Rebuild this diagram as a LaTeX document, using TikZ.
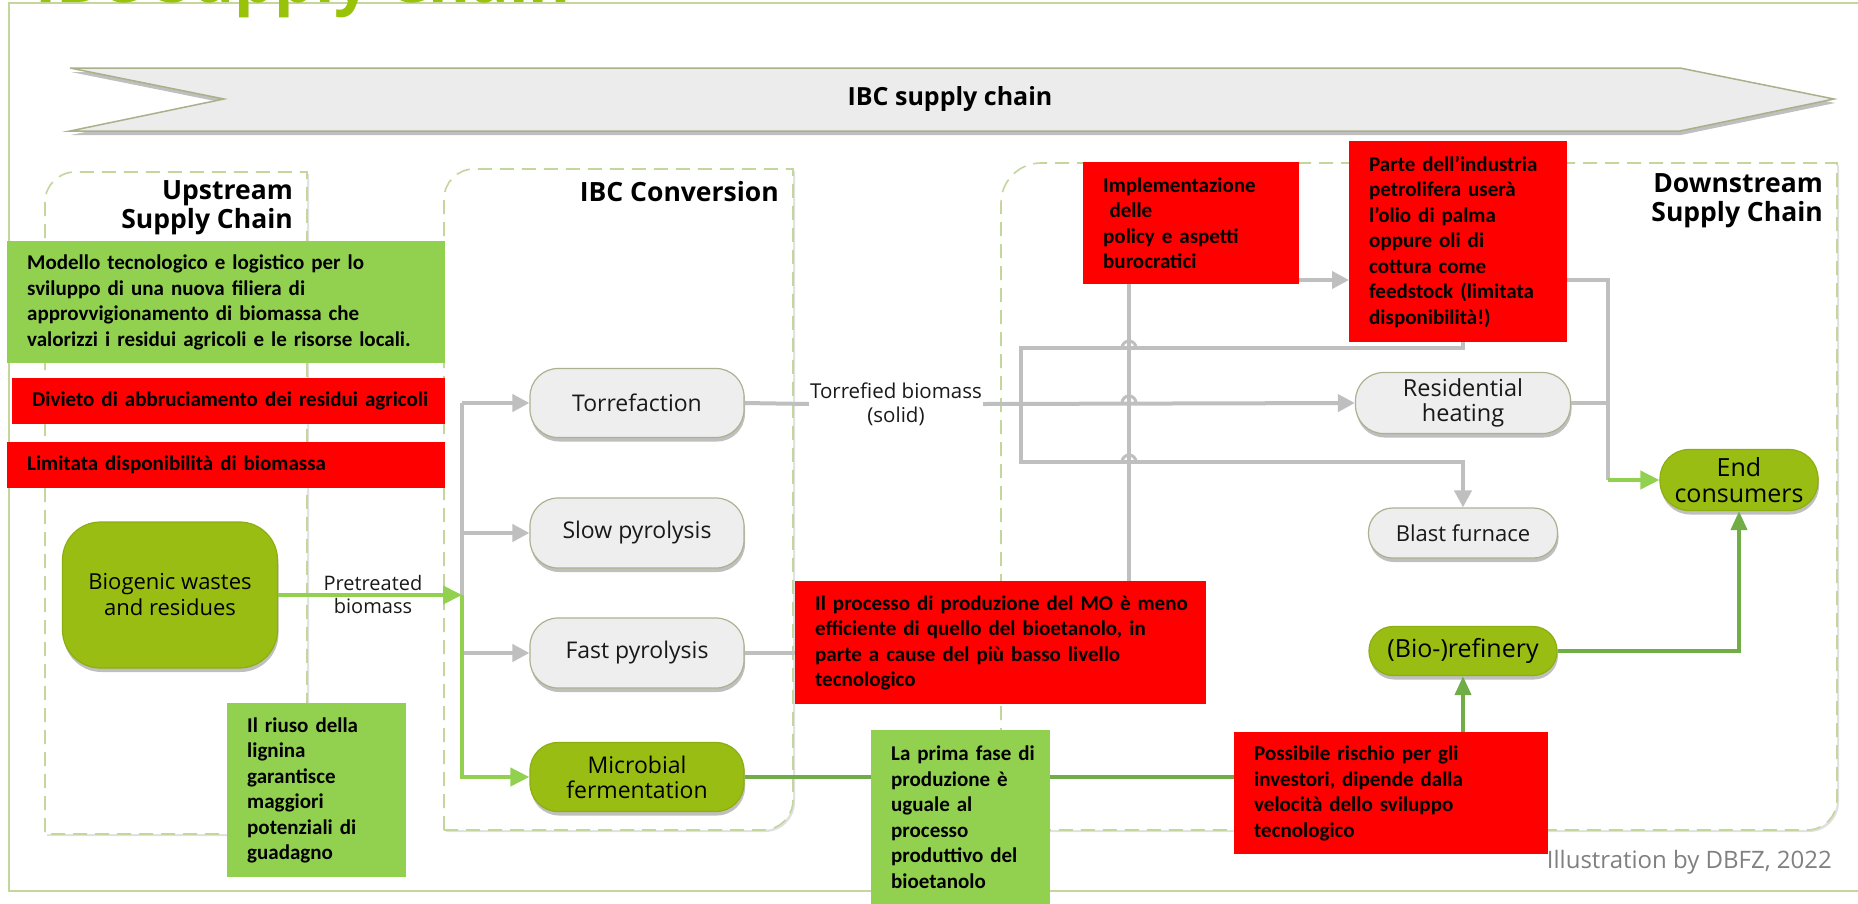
\documentclass[tikz,border=0pt]{standalone}
\usepackage{fontspec}
\setmainfont{Carlito}
\newfontfamily\osans{Open Sans}
\usetikzlibrary{arrows.meta,shadows,calc}
\definecolor{frameg}{HTML}{C3D69B}
\definecolor{titleg}{HTML}{99C20A}
\definecolor{ribfill}{HTML}{ECECEC}
\definecolor{ribdraw}{HTML}{A9B08A}
\definecolor{procgray}{HTML}{EEEEEE}
\definecolor{procdraw}{HTML}{ADB18F}
\definecolor{procgreen}{HTML}{99BD12}
\definecolor{procgdraw}{HTML}{8DAE10}
\definecolor{notered}{HTML}{FF0000}
\definecolor{notegreen}{HTML}{92D050}
\definecolor{linegray}{HTML}{BFBFBF}
\definecolor{lgreen}{HTML}{92D050}
\definecolor{dgreen}{HTML}{70AD47}
\definecolor{creditc}{HTML}{808080}
\newcommand\fnode{\osans\fontsize{23}{25}\selectfont}
\newcommand\fnote{\bfseries\fontsize{21}{25.5}\selectfont}
\newcommand\fhead{\osans\bfseries\fontsize{26.5}{29}\selectfont}
\begin{document}
\begin{tikzpicture}[x=1pt,y=-1pt,
  frame/.style={draw=frameg, line width=2pt},
  cont/.style={draw=frameg, line width=1.6pt, dash pattern=on 14pt off 8pt, fill=white,
    drop shadow={shadow xshift=2pt, shadow yshift=-2pt, opacity=0.12, fill=black}},
  ribbon/.style={draw=ribdraw, line width=1.5pt, fill=ribfill,
    drop shadow={shadow xshift=1pt, shadow yshift=-4pt, opacity=0.25, fill=black}},
  proc/.style={draw=procdraw, line width=1.2pt, fill=procgray, rounded corners=28pt,
    minimum width=214pt, minimum height=69pt, align=center, font=\fnode, inner sep=0pt,
    text=black!90, drop shadow={shadow xshift=1pt, shadow yshift=-4pt, opacity=0.25, fill=black}},
  gproc/.style={proc, fill=procgreen, draw=procgdraw, text=black},
  note/.style={anchor=north west, inner xsep=20pt, inner ysep=0pt, align=left, font=\fnote, text=black},
  rednote/.style={note, fill=notered},
  grnnote/.style={note, fill=notegreen},
  gline/.style={draw=linegray, line width=4pt},
  garrow/.style={gline, -{Triangle[length=17pt,width=17pt]}},
  lgline/.style={draw=lgreen, line width=4pt},
  lgarrow/.style={lgline, -{Triangle[length=19pt,width=18pt]}},
  dgline/.style={draw=dgreen, line width=4pt},
  dgarrow/.style={dgline, -{Triangle[length=19pt,width=16pt]}},
  lbl/.style={font=\osans\fontsize{20.5}{24}\selectfont, align=center, inner sep=1pt, text=black!90},
  head/.style={font=\fhead, align=right, inner sep=0pt, anchor=east, text=black}
]
\useasboundingbox (0,0) rectangle (1858,903);
\fill[white] (0,0) rectangle (1858,903);

% outer frame and title
\draw[frame] (1870,3) -- (9,3) -- (9,891) -- (1870,891);
\node[anchor=base west, inner sep=0pt, text=titleg, font=\osans\bfseries\fontsize{64}{68}\selectfont] (title) at (35,2) {IBC Supply Chain};

% ribbon
\draw[ribbon] (70,68) -- (1680,68) -- (1834,99) -- (1680,131) -- (70,131) -- (224,99) -- cycle;
\node[font=\osans\bfseries\fontsize{25}{28}\selectfont, text=black] (ribtext) at (950,99) {IBC supply chain};

% containers
\draw[cont] (307,834) -- (45,834) -- (45,202) arc[start angle=180,end angle=90,radius=30pt] -- (307,172) -- cycle;
\draw[cont] (444,830) -- (444,199) arc[start angle=180,end angle=90,radius=30pt] -- (793,169) -- (793,800) arc[start angle=0,end angle=-90,radius=30pt] -- cycle;
\draw[cont] (1001,830) -- (1001,203) arc[start angle=180,end angle=90,radius=40pt] -- (1837,163) -- (1837,800) arc[start angle=0,end angle=-90,radius=30pt] -- cycle;

\node[head] (uptitle) at (293,208) {Upstream\\Supply Chain};
\node[head] (convtitle) at (779,192) {IBC Conversion};
\node[head] (downtitle) at (1823,201) {Downstream\\Supply Chain};

% process nodes
\node[proc] (torr) at (637,403) {Torrefaction};
\node[proc, minimum height=70pt] (slow) at (637,533) {Slow pyrolysis};
\node[proc, minimum height=70pt] (fast) at (637,653) {Fast pyrolysis};
\node[gproc] (micro) at (637,777) {Microbial\\fermentation};
\node[gproc, minimum width=215pt, minimum height=146pt, rounded corners=38pt, font=\osans\fontsize{22}{26}\selectfont] (biog) at (170,595) {Biogenic wastes\\and residues};
\node[proc, minimum width=215pt, minimum height=61pt, rounded corners=28pt, font=\osans\fontsize{23.5}{25}\selectfont] (res) at (1463,403) {Residential\\heating};
\node[proc, minimum width=189pt, minimum height=50pt, rounded corners=24pt, font=\osans\fontsize{22}{25}\selectfont] (blast) at (1463,533) {Blast furnace};
\node[gproc, minimum width=188pt, minimum height=49pt, rounded corners=24pt, font=\osans\fontsize{25}{26}\selectfont] (refin) at (1463,651) {(Bio-)refinery};
\node[gproc, minimum width=158pt, minimum height=61pt, rounded corners=29pt, font=\osans\fontsize{25}{26}\selectfont] (endc) at (1739,480) {End\\consumers};

% notes
\node[grnnote, text width=398pt, minimum height=122pt] (modello) at (7,241)
  {\mbox{Modello tecnologico e logistico per lo}\\\mbox{sviluppo di una nuova filiera di}\\\mbox{approvvigionamento di biomassa che}\\\mbox{valorizzi i residui agricoli e le risorse locali.}};
\node[rednote, text width=393pt, minimum height=46pt] (divieto) at (12,378)
  {\mbox{Divieto di abbruciamento dei residui agricoli}};
\node[rednote, text width=398pt, minimum height=46pt] (limitata) at (7,442)
  {\mbox{Limitata disponibilità di biomassa}};
\node[grnnote, text width=139pt, minimum height=174pt] (riuso) at (227,703)
  {\mbox{Il riuso della}\\\mbox{lignina}\\\mbox{garantisce}\\\mbox{maggiori}\\\mbox{potenziali di}\\\mbox{guadagno}};
\node[rednote, text width=371pt, minimum height=123pt] (proc) at (795,581)
  {\mbox{Il processo di produzione del MO è meno}\\\mbox{efficiente di quello del bioetanolo, in}\\\mbox{parte a cause del più basso livello}\\\mbox{tecnologico}};
\node[grnnote, text width=139pt, minimum height=174pt] (prima) at (871,730)
  {\mbox{La prima fase di}\\\mbox{produzione è}\\\mbox{uguale al}\\\mbox{processo}\\\mbox{produttivo del}\\\mbox{bioetanolo}};
\node[rednote, text width=274pt, minimum height=122pt] (poss) at (1234,732)
  {\mbox{Possibile rischio per gli}\\\mbox{investori, dipende dalla}\\\mbox{velocità dello sviluppo}\\\mbox{tecnologico}};
\node[rednote, text width=176pt, minimum height=122pt] (implem) at (1083,162)
  {\mbox{Implementazione}\\\mbox{\hspace{0.3em}delle}\\\mbox{policy e aspetti}\\\mbox{burocratici}};
\node[rednote, text width=178pt, minimum height=201pt] (parte) at (1349,141)
  {\mbox{Parte dell’industria}\\\mbox{petrolifera userà}\\\mbox{l’olio di palma}\\\mbox{oppure oli di}\\\mbox{cottura come}\\\mbox{feedstock (limitata}\\\mbox{disponibilità!)}};

% labels
\node[lbl, font=\osans\fontsize{20}{23}\selectfont] (pre) at (373,594) {Pretreated\\biomass};
\node[lbl] (tlab) at (896,404) {Torrefied biomass\\(solid)};

% conversion connectors
\coordinate (jA) at (462,403);
\coordinate (jG) at (462,595);
\coordinate (jS) at (462,533);
\coordinate (jF) at (462,653);
\draw[gline] (jG) -- (jA);
\draw[garrow] (jA) -- (torr.west);
\draw[garrow] (jS) -- (slow.west);
\draw[garrow] (jF) -- (fast.west);
\draw[lgarrow] (biog.east) -- (jG);
\draw[lgarrow] (jG) |- (micro.west);

% microbial route
\draw[dgline] (micro.east) -- (micro.east -| prima.west);
\draw[dgline] (micro.east -| prima.east) -- (micro.east -| poss.west);
\draw[dgarrow] (refin.south |- poss.north) -- (refin.south);
\draw[dgarrow] (refin.east) -| (endc.south);

% downstream gray connectors
\draw[gline] (fast.east) -- (fast.east -| proc.west);
\coordinate (vx) at (1129,0);
\draw[gline] (vx |- implem.south) -- (vx |- proc.north);
\coordinate (hy) at (0,280);
\draw[garrow] (implem.east |- hy) -- (parte.west |- hy);
\coordinate (cR) at (1608,480);
\draw[gline] (parte.east |- hy) -| (cR);
\draw[lgarrow] (cR) -- (endc.west);
\draw[gline] (res.east) -- (res.east -| cR);
\coordinate (k1) at (1021,348);
\coordinate (k2) at (1021,462);
\draw[garrow] (blast.north |- parte.south) |- (k1) -- (k2) -| (blast.north);
\draw[gline] (torr.east) -- (tlab.west);
\draw[garrow] (tlab.east) -- (res.west);
\foreach \yy in {348,403,462}
  \draw[draw=linegray, line width=3pt] (1122,\yy) arc[start angle=180,end angle=0,radius=7pt];

% credit
\node[anchor=east, inner sep=0pt, text=creditc, font=\osans\fontsize{24}{28}\selectfont] (credit) at (1832,862) {Illustration by DBFZ, 2022};
\end{tikzpicture}
\end{document}
